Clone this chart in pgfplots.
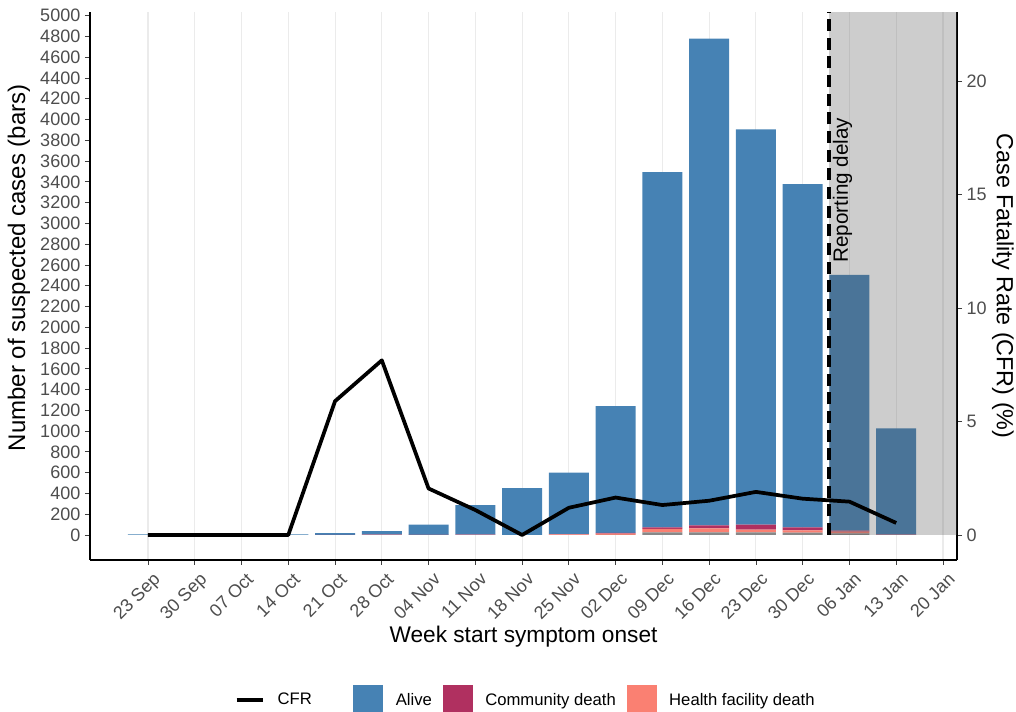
\documentclass[border=0pt]{standalone}
\usepackage{fontspec}
\setmainfont{Liberation Sans}
\usepackage{pgfplots}
\usepackage{pgfplotstable}
\pgfplotsset{compat=1.18}

\definecolor{alive}{HTML}{4682B4}
\definecolor{commdeath}{HTML}{B03060}
\definecolor{hfdeath}{HTML}{FA8072}
\definecolor{unkn}{HTML}{888888}
\definecolor{gridc}{HTML}{EBEBEB}
\definecolor{ticklab}{HTML}{4D4D4D}

% weekly counts by outcome (0 = week of 23 Sep)
\pgfplotstableread{
x  unk hf comm alive
0  0   0  0    5
1  0   0  0    3
2  0   0  0    2
3  0   0  0    5
4  0   0  1    16
5  0   1  2    35
6  0   1  1    98
7  0   2  1    285
8  0   0  0    450
9  0   5  2    593
10 2   12 6    1220
11 26  32 16   3419
12 26  38 29   4687
13 26  26 48   3806
14 22  22 29   3305
15 16  16 10   2463
16 0   2  2    1023
}\cases

% case fatality rate (%)
\pgfplotstableread{
x  cfr
0  0
1  0
2  0
3  0
4  5.9
5  7.7
6  2.05
7  1.1
8  0
9  1.2
10 1.65
11 1.32
12 1.51
13 1.9
14 1.6
15 1.47
16 0.53
}\cfr

\pgfplotsset{
  base/.style={
    at={(67.5pt,114pt)}, anchor=south west,
    scale only axis, width=650.25pt, height=411pt,
    xmin=-1.24, xmax=17.3,
    tick align=outside, major tick length=3.75pt,
    tick style={black!75, line width=0.6pt},
    axis line style={black, line width=1.1pt},
    ticklabel style={font=\fontsize{13.5}{15}\selectfont, text=ticklab},
    /pgf/number format/assume math mode=true,
    /pgf/number format/1000 sep={},
  },
  barleg/.style={legend image code/.code={\fill[##1] (0pt,-11.25pt) rectangle (22.5pt,11.25pt);}},
  lineleg/.style={legend image code/.code={\draw[##1] (0pt,0pt) -- (20pt,0pt);}},
}

\begin{document}
\begin{tikzpicture}
\useasboundingbox (0,0) rectangle (762pt,534pt);
\begin{axis}[
    base,
    ybar stacked, bar width=0.855,
    axis x line*=bottom, axis y line*=left,
    ymin=-241, ymax=5036,
    ytick={0,200,...,5000},
    xtick={0,...,17},
    xticklabels={23 Sep,30 Sep,07 Oct,14 Oct,21 Oct,28 Oct,04 Nov,11 Nov,18 Nov,25 Nov,02 Dec,09 Dec,16 Dec,23 Dec,30 Dec,06 Jan,13 Jan,20 Jan},
    xticklabel style={xshift=3pt, rotate=45, anchor=north east},
    xmajorgrids, grid style={gridc, line width=0.8pt},
    xlabel={Week start symptom onset},
    ylabel={Number of suspected cases (bars)},
    xlabel style={at={(axis description cs:0.5,-0.1405)}, anchor=center, font=\fontsize{17}{20}\selectfont},
    ylabel style={at={(axis description cs:-0.082,0.533)}, anchor=center, font=\fontsize{18}{21}\selectfont},
    reverse legend,
    legend columns=-1,
    legend style={at={(axis description cs:0.503,-0.2555)}, anchor=center,
      draw=none, fill=none, font=\fontsize{12.5}{15}\selectfont,
      /tikz/every odd column/.append style={column sep=7.5pt},
      /tikz/every even column/.append style={column sep=6pt}},
]
\addplot[fill=unkn, draw=none, forget plot] table[x=x, y=unk] {\cases};
\addplot[fill=hfdeath, draw=none, barleg] table[x=x, y=hf] {\cases};
\addlegendentry{Health facility death}
\addplot[fill=commdeath, draw=none, barleg] table[x=x, y=comm] {\cases};
\addlegendentry{Community death}
\addplot[fill=alive, draw=none, barleg] table[x=x, y=alive] {\cases};
\addlegendentry{Alive}
\addlegendimage{black, line width=2.5pt, lineleg}
\addlegendentry{CFR\rule{23pt}{0pt}}
\end{axis}

\begin{axis}[
    base,
    axis y line*=right, axis x line=none,
    ymin=-1.103, ymax=23.06,
    ytick={0,5,...,20},
    ylabel={Case Fatality Rate (CFR) (\%)},
    ylabel style={at={(axis description cs:1.053,0.5)}, anchor=center, rotate=180, font=\fontsize{17.5}{20}\selectfont},
]
% reporting delay shading and cut-off
\addplot[fill=black!67, fill opacity=0.29, draw=none] coordinates {(14.57,0) (17.3,0) (17.3,23.06) (14.57,23.06)} -- cycle;
\addplot[black, line width=3pt, dash pattern=on 9pt off 5pt] coordinates {(14.57,0) (14.57,23.06)};
\addplot[black, line width=2.8pt, line join=round, mark=none] table[x=x, y=cfr] {\cfr};
\node[rotate=90, anchor=north west, inner sep=0pt, xshift=0pt, yshift=-2.5pt, font=\fontsize{15.5}{18}\selectfont] at (axis cs:14.57,12) {Reporting delay};
\end{axis}
\end{tikzpicture}
\end{document}
